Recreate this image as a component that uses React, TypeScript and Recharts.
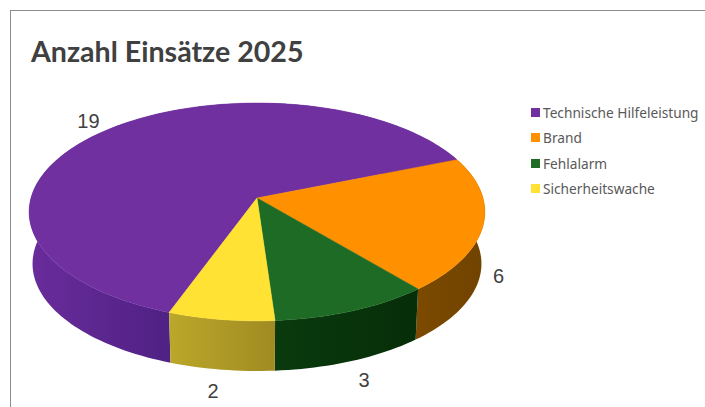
import React from "react";
import { PieChart, Pie, Legend } from "recharts";

const CATEGORIES = ["Technische Hilfeleistung", "Brand", "Fehlalarm", "Sicherheitswache"];
const VALUES = [19, 6, 3, 2];
const COLORS = ["#7030A0", "#FF9000", "#1E6B25", "#FFE233"];
const SIDE_LIGHT = ["#6A2C9B", "#7C4A00", "#0A3A0E", "#BBA72A"];
const SIDE_DARK = ["#512286", "#704300", "#062E08", "#A08B22"];
// the purple slice's box spans the whole disc, only its left part shows a side
const SIDE_END = ["30%", "100%", "100%", "100%"];

const TITLE = "Anzahl Einsätze 2025";
const TABLE = CATEGORIES.map((name, i) => ({ name, value: VALUES[i], fill: COLORS[i] }));

// perspective of the tilted disc: flattening, foreshortening, thickness
const FLAT = 0.474;
const PERSP = 0.128;
const DEPTH = 52;
const BOTTOM_SCALE = 0.985;
const LABEL_REACH = [1.135, 1.065, 1.135, 1.14];
const LABEL_DROP = [0, 49, 52, 52];
const LABEL_NUDGE = [-1, 0, -4, -2];

const RAD = Math.PI / 180;

function project(r: number, deg: number, reach = 1) {
  const u = Math.cos(deg * RAD) * reach;
  const v = Math.sin(deg * RAD) * reach;
  const w = 1 + PERSP * v;
  return { x: (r * u) / w, y: (-r * FLAT * v) / w };
}

function rim(cx: number, cy: number, r: number, from: number, to: number, low: boolean) {
  const steps = Math.max(2, Math.ceil(Math.abs(from - to) / 1.5));
  const pts: string[] = [];
  for (let i = 0; i <= steps; i++) {
    const p = project(r, from + ((to - from) * i) / steps);
    const s = low ? BOTTOM_SCALE : 1;
    pts.push(`${(cx + p.x * s).toFixed(2)},${(cy + p.y * s + (low ? DEPTH : 0)).toFixed(2)}`);
  }
  return pts;
}

function DiscSlice(props: any) {
  const { cx, cy, outerRadius, startAngle, endAngle, fill, index } = props;
  const top = rim(cx, cy, outerRadius, startAngle, endAngle, false);
  const low = rim(cx, cy, outerRadius, endAngle, startAngle, true);
  return (
    <g>
      <polygon points={[...top, ...low].join(" ")} fill={`url(#side${index})`} />
      <polygon points={[`${cx},${cy}`, ...top].join(" ")} fill={fill} stroke={fill} strokeWidth={0.5} />
    </g>
  );
}

function SliceLabel(props: any) {
  const { cx, cy, outerRadius, midAngle, index, value } = props;
  const p = project(outerRadius, midAngle, LABEL_REACH[index]);
  return (
    <text
      x={cx + p.x + LABEL_NUDGE[index]}
      y={cy + p.y + LABEL_DROP[index]}
      textAnchor="middle"
      dominantBaseline="central"
      fontFamily="Liberation Sans"
      fontSize={20}
      fill="#404040"
    >
      {value}
    </text>
  );
}

function LegendList(props: any) {
  return (
    <div>
      {props.payload.map((item: any) => (
        <div key={item.value} style={{ display: "flex", alignItems: "center", height: 25.5 }}>
          <span style={{ width: 9, height: 9, background: item.color, marginRight: 3 }} />
          <span style={{ fontFamily: "Noto Sans", fontSize: 13.7, color: "#595959", whiteSpace: "nowrap" }}>
            {item.value}
          </span>
        </div>
      ))}
    </div>
  );
}

export default function App() {
  return (
    <div style={{ position: "fixed", left: 0, top: 0, width: 705, height: 407, background: "#fff", overflow: "hidden" }}>
      <div
        style={{
          position: "absolute",
          left: 10,
          top: 10,
          width: 720,
          height: 420,
          border: "1px solid #8C8C8C",
        }}
      />
      <div
        style={{
          position: "absolute",
          left: 31,
          top: 34,
          fontFamily: "Lato",
          fontWeight: 700,
          fontSize: 28.6,
          color: "#404040",
          whiteSpace: "nowrap",
        }}
      >
        {TITLE}
      </div>
      <PieChart
        width={705}
        height={407}
        margin={{ top: 0, right: 0, bottom: 0, left: 0 }}
        style={{ position: "absolute", left: 0, top: 0 }}
      >
        <defs>
          {VALUES.map((_, i) => (
            <linearGradient key={i} id={`side${i}`} x1="0" y1="0" x2="1" y2="0">
              <stop offset="0%" stopColor={SIDE_LIGHT[i]} />
              <stop offset={SIDE_END[i]} stopColor={SIDE_DARK[i]} />
            </linearGradient>
          ))}
        </defs>
        <Pie
          data={TABLE}
          dataKey="value"
          nameKey="name"
          cx={257}
          cy={198}
          outerRadius={226}
          startAngle={250}
          endAngle={-110}
          paddingAngle={0}
          stroke="none"
          shape={DiscSlice}
          label={SliceLabel}
          labelLine={false}
          isAnimationActive={false}
        />
        <Legend
          content={LegendList}
          itemSorter={null}
          layout="vertical"
          align="right"
          verticalAlign="top"
          wrapperStyle={{ left: 531, top: 99.5, width: 174 }}
        />
      </PieChart>
    </div>
  );
}
